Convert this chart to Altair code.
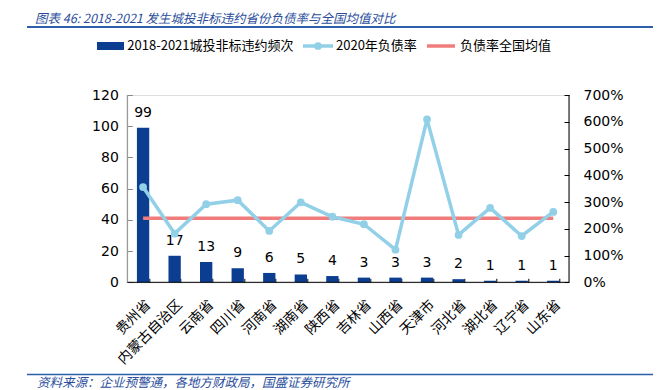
import altair as alt
import pandas as pd

# ---------------- data ----------------
provinces = ["贵州省", "内蒙古自治区", "云南省", "四川省", "河南省", "湖南省", "陕西省",
             "吉林省", "山西省", "天津市", "河北省", "湖北省", "辽宁省", "山东省"]
default_counts = [99, 17, 13, 9, 6, 5, 4, 3, 3, 3, 2, 1, 1, 1]
debt_ratio_2020 = [3.56, 1.82, 2.92, 3.07, 1.92, 2.99, 2.45, 2.17, 1.22, 6.09, 1.77, 2.78, 1.73, 2.63]
national_avg = 2.39

left_ticks = [0, 20, 40, 60, 80, 100, 120]
right_ticks = [0, 1, 2, 3, 4, 5, 6, 7]

title_text = "图表 46:  2018-2021 发生城投非标违约省份负债率与全国均值对比"
source_text = "资料来源：企业预警通，各地方财政局，国盛证券研究所"
legend_labels = ["2018-2021城投非标违约频次", "2020年负债率", "负债率全国均值"]

df = pd.DataFrame({
    "province": provinces,
    "count": default_counts,
    "ratio": debt_ratio_2020,
    "avg": [national_avg] * len(provinces),
})
one = pd.DataFrame({"a": [0]})

# ---------------- style ----------------
W, H = 441.7, 187.3
FONT = "DejaVu Sans"
CJK = "Noto Sans CJK SC"
BAR = "#0B3D91"
BLUE = "#92D0E8"
RED = "#F07C7C"
TBLUE = "#2A4D9B"

x_enc = alt.X(
    "province:N", sort=provinces,
    scale=alt.Scale(paddingInner=0.61, paddingOuter=0.305),
    axis=alt.Axis(title=None, labelAngle=-45, labelAlign="right", labelBaseline="top",
                  labelFont=CJK, labelFontSize=14, labelColor="#000", domain=False,
                  ticks=True, tickBand="extent", tickSize=4, offset=-4,
                  tickColor="#000", labelPadding=15, grid=False, labelOverlap=False),
)

left_axis = alt.Axis(title=None, orient="left", values=left_ticks, domain=False,
                     tickSize=5, offset=-5, tickColor="#888", labelPadding=9,
                     labelFont=FONT, labelFontSize=14, labelColor="#000", grid=False,
                     labelOverlap=False)
right_axis = alt.Axis(title=None, orient="right", values=right_ticks, format="%",
                      domain=False, tickSize=5, offset=-5, tickColor="#000",
                      labelPadding=14, labelFont=FONT, labelFontSize=14,
                      labelColor="#000", grid=False, labelOverlap=False)

bars = alt.Chart(df).mark_bar(color=BAR).encode(
    x=x_enc, y=alt.Y("count:Q", scale=alt.Scale(domain=[0, 120]), axis=left_axis))
bar_text = alt.Chart(df).mark_text(baseline="bottom", dy=-8, font=FONT, fontSize=14,
                                   color="#000").encode(
    x=alt.X("province:N", sort=provinces),
    y=alt.Y("count:Q", scale=alt.Scale(domain=[0, 120]), axis=left_axis),
    text="count:Q")
left_layer = alt.layer(bars, bar_text)

avg_line = alt.Chart(df).mark_line(color=RED, strokeWidth=3.5).encode(
    x=alt.X("province:N", sort=provinces),
    y=alt.Y("avg:Q", scale=alt.Scale(domain=[0, 7]), axis=right_axis))
ratio_line = alt.Chart(df).mark_line(
    color=BLUE, strokeWidth=3.5,
    point=alt.OverlayMarkDef(filled=True, size=60, color=BLUE)
).encode(x=alt.X("province:N", sort=provinces),
         y=alt.Y("ratio:Q", scale=alt.Scale(domain=[0, 7]), axis=right_axis))
right_layer = alt.layer(avg_line, ratio_line)

# axis lines
base1 = alt.Chart(one)
left_dom = base1.mark_rule(color="#888", strokeWidth=1).encode(
    x=alt.value(0), y=alt.value(0), y2=alt.value(H))
right_dom = base1.mark_rule(color="#000", strokeWidth=1).encode(
    x=alt.value(W), y=alt.value(0), y2=alt.value(H))
bottom_dom = base1.mark_rule(color="#000", strokeWidth=1).encode(
    x=alt.value(0), x2=alt.value(W), y=alt.value(H))

# title, source, lines
title = base1.mark_text(align="left", baseline="middle", font=CJK, fontSize=12.5,
                        fontStyle="italic", fontWeight="normal", color=TBLUE).encode(
    x=alt.value(-92.3), y=alt.value(-76), text=alt.value(title_text))
title_rule = base1.mark_rule(color="#2E5EAA", strokeWidth=2).encode(
    x=alt.value(-100.3), x2=alt.value(W + 84), y=alt.value(-68))
source = base1.mark_text(align="left", baseline="middle", font=CJK, fontSize=12.5,
                         fontStyle="italic", color=TBLUE).encode(
    x=alt.value(-90.3), y=alt.value(287.5), text=alt.value(source_text))
source_rule = base1.mark_rule(color="#2E5EAA", strokeWidth=1.5).encode(
    x=alt.value(-100.3), x2=alt.value(W + 84), y=alt.value(279.5))

# legend
LY = -49
leg_bar = base1.mark_rect(color=BAR).encode(
    x=alt.value(-30.3), x2=alt.value(-3.3), y=alt.value(LY - 4), y2=alt.value(LY + 4))
leg_t1 = base1.mark_text(align="left", baseline="middle", font=CJK, fontSize=13,
                         color="#000").encode(
    x=alt.value(0), y=alt.value(LY), text=alt.value(legend_labels[0]))
leg_blue = base1.mark_rule(color=BLUE, strokeWidth=3.5).encode(
    x=alt.value(175.7), x2=alt.value(205.7), y=alt.value(LY))
leg_blue_pt = base1.mark_point(filled=True, size=60, color=BLUE, opacity=1).encode(
    x=alt.value(190.7), y=alt.value(LY))
leg_t2 = base1.mark_text(align="left", baseline="middle", font=CJK, fontSize=13,
                         color="#000").encode(
    x=alt.value(208.7), y=alt.value(LY), text=alt.value(legend_labels[1]))
leg_red = base1.mark_rule(color=RED, strokeWidth=3.5).encode(
    x=alt.value(299.7), x2=alt.value(327.7), y=alt.value(LY))
leg_t3 = base1.mark_text(align="left", baseline="middle", font=CJK, fontSize=13,
                         color="#000").encode(
    x=alt.value(332.7), y=alt.value(LY), text=alt.value(legend_labels[2]))

chart = alt.layer(
    left_layer, right_layer,
    left_dom, right_dom, bottom_dom,
    title, title_rule, source, source_rule,
    leg_bar, leg_t1, leg_blue, leg_blue_pt, leg_t2, leg_red, leg_t3,
).resolve_scale(y="independent").properties(
    width=W, height=H,
    padding={"left": 119.3, "top": 87, "right": 84, "bottom": 107.7},
    autosize=alt.AutoSizeParams(type="none"),
).configure_view(stroke=None).configure(background="white")

chart.save("out.html", embed_options={"renderer": "svg", "actions": False})
